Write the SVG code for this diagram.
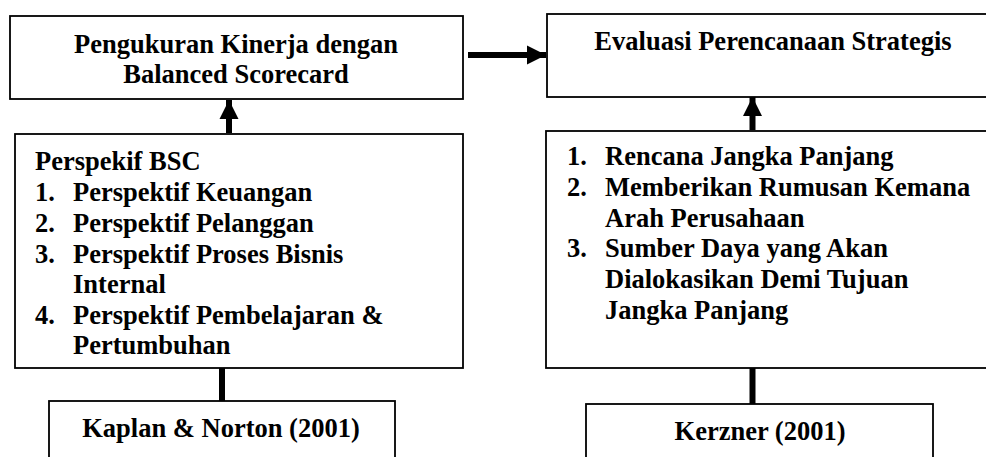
<svg xmlns="http://www.w3.org/2000/svg" width="986" height="457" viewBox="0 0 986 457">
<style>
.box{fill:#fff;stroke:#000;stroke-width:1.8}
.t{font-family:"Liberation Serif","Times New Roman",serif;font-weight:bold;font-size:26.5px;fill:#000}
.c{text-anchor:middle}
.ln{stroke:#000;stroke-width:6;fill:none}
</style>
<defs>
<marker id="ah" viewBox="0 0 10 10" refX="10" refY="5" markerWidth="3.2" markerHeight="3.4" orient="auto" markerUnits="strokeWidth">
<path d="M0,0 L10,5 L0,10 Z" fill="#000"/>
</marker>
</defs>
<g id="connectors">
<line class="ln" x1="468" y1="55" x2="546" y2="55" marker-end="url(#ah)"/>
<line class="ln" x1="229" y1="133" x2="229" y2="100" marker-end="url(#ah)"/>
<line class="ln" x1="752.5" y1="130" x2="752.5" y2="97" marker-end="url(#ah)"/>
<line class="ln" x1="222" y1="368" x2="222" y2="401"/>
<line class="ln" x1="752.5" y1="368" x2="752.5" y2="404"/>
</g>
<g id="bsc">
<rect class="box" x="10" y="16" width="453" height="83"/>
<text class="t c" x="236" y="53">Pengukuran Kinerja dengan</text>
<text class="t c" x="236" y="83">Balanced Scorecard</text>
</g>
<g id="evaluasi">
<rect class="box" x="547" y="14" width="450" height="83"/>
<text class="t c" x="773" y="50">Evaluasi Perencanaan Strategis</text>
</g>
<g id="perspektif">
<rect class="box" x="15" y="134" width="448" height="234"/>
<text class="t" x="35" y="170">Perspekif BSC</text>
<text class="t" x="35" y="201">1.</text><text class="t" x="73" y="201">Perspektif Keuangan</text>
<text class="t" x="35" y="232">2.</text><text class="t" x="73" y="232">Perspektif Pelanggan</text>
<text class="t" x="35" y="263">3.</text><text class="t" x="73" y="263">Perspektif Proses Bisnis</text>
<text class="t" x="73" y="293">Internal</text>
<text class="t" x="35" y="324">4.</text><text class="t" x="73" y="324">Perspektif Pembelajaran &amp;</text>
<text class="t" x="73" y="354">Pertumbuhan</text>
</g>
<g id="rencana">
<rect class="box" x="546" y="131" width="450" height="237"/>
<text class="t" x="567" y="165">1.</text><text class="t" x="605" y="165">Rencana Jangka Panjang</text>
<text class="t" x="567" y="196">2.</text><text class="t" x="605" y="196">Memberikan Rumusan Kemana</text>
<text class="t" x="605" y="227">Arah Perusahaan</text>
<text class="t" x="567" y="257">3.</text><text class="t" x="605" y="257">Sumber Daya yang Akan</text>
<text class="t" x="605" y="288">Dialokasikan Demi Tujuan</text>
<text class="t" x="605" y="319">Jangka Panjang</text>
</g>
<g id="kaplan">
<rect class="box" x="49" y="401" width="346" height="70"/>
<text class="t c" x="221" y="437">Kaplan &amp; Norton (2001)</text>
</g>
<g id="kerzner">
<rect class="box" x="586" y="404" width="347" height="70"/>
<text class="t c" x="760" y="440">Kerzner (2001)</text>
</g>
</svg>
